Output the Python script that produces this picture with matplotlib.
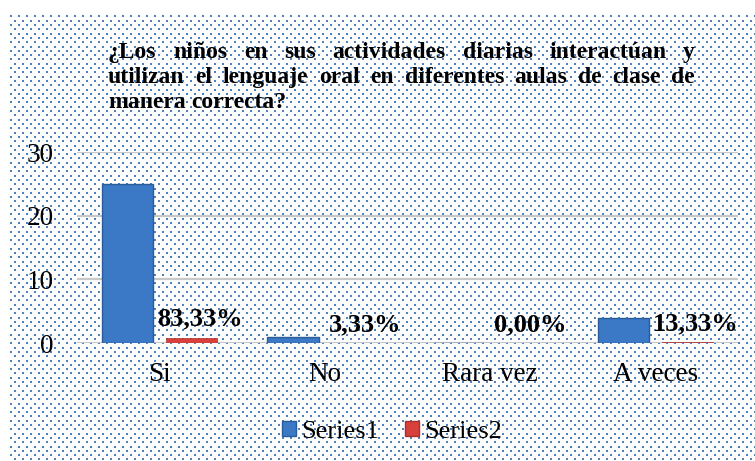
import matplotlib
matplotlib.use('Agg')
import matplotlib.pyplot as plt
from matplotlib.patches import Rectangle
import numpy as np

plt.rcParams['font.family'] = ['Liberation Serif', 'DejaVu Serif']

categories = ['Si', 'No', 'Rara vez', 'A veces']
series1 = [25, 1, 0, 4]
series2 = [0.8333, 0.0333, 0.0, 0.1333]
pct_labels = ['83,33%', '3,33%', '0,00%', '13,33%']
title_lines = ['¿Los niños en sus actividades diarias interactúan y',
               'utilizan el lenguaje oral en diferentes aulas de clase de',
               'manera correcta?']

W, H = 755, 461
fig = plt.figure(figsize=(W / 100, H / 100), dpi=100)

# fondo punteado (decorativo), en pixeles
bg = fig.add_axes([0, 0, 1, 1], zorder=-10)
bg.set_xlim(0, W)
bg.set_ylim(H, 0)
bg.axis('off')
rows = np.arange(16.5, H, 4.3)
px, py = [], []
for r, yy in enumerate(rows):
    xs = np.arange(10.5 + (4 if r % 2 else 0), W, 8.0)
    px.extend(xs)
    py.extend([yy] * len(xs))
bg.scatter(px, py, s=2.8, marker='s', color='#4f81bd', linewidths=0)

ax = fig.add_axes([77 / W, 1 - 343 / H, 661 / W, 191 / H])
ax.set_facecolor('none')

x = np.arange(len(categories))
bw = 0.31
off = 0.193
ax.bar(x - off, series1, bw, color='#3b79c6', edgecolor='#2a5c98', linewidth=1, zorder=3)
ax.bar(x + off, series2, bw, color='#d8403c', edgecolor='#a8302d', linewidth=0.5, zorder=3)

for i, (v, lab) in enumerate(zip(series2, pct_labels)):
    ax.annotate(lab, (x[i] + off, v), xytext=(6, 5), textcoords='offset points',
                ha='center', va='bottom', fontsize=19, fontweight='bold')

ax.set_xlim(-0.5, 3.5)
ax.set_ylim(0, 30)
ax.set_yticks([0, 10, 20, 30])
ax.set_xticks(x)
ax.set_xticklabels(categories)
ax.yaxis.grid(True, color='#c8c8c8', linewidth=1.6)
ax.set_axisbelow(True)
for s in ax.spines.values():
    s.set_visible(False)
ax.tick_params(axis='both', length=0, labelsize=19.5)
ax.tick_params(axis='y', pad=17)
ax.tick_params(axis='x', pad=14)

# titulo justificado
renderer = fig.canvas.get_renderer()
left, right = 108, 695
baselines = [58, 83, 108]
for k, (line, yb) in enumerate(zip(title_lines, baselines)):
    words = line.split()
    texts = [fig.text(0, 1 - yb / H, w, fontsize=17, fontweight='bold', va='baseline')
             for w in words]
    widths = [t.get_window_extent(renderer).width for t in texts]
    if k < len(title_lines) - 1:
        gap = (right - left - sum(widths)) / (len(words) - 1)
    else:
        gap = 0.25 * 17 * 100 / 72
    xp = left
    for t, w in zip(texts, widths):
        t.set_x(xp / W)
        xp += w + gap

handles = [Rectangle((0, 0), 1, 1, facecolor='#3b79c6', edgecolor='#2a5c98'),
           Rectangle((0, 0), 1, 1, facecolor='#d8403c', edgecolor='#a8302d')]
fig.legend(handles, ['Series1', 'Series2'], loc='center', bbox_to_anchor=(392 / W, 1 - 432 / H),
           ncol=2, frameon=False, fontsize=19, handlelength=0.53, handleheight=0.53,
           handletextpad=0.2, columnspacing=1.0, borderpad=0)

fig.savefig('out.png', dpi=100)
